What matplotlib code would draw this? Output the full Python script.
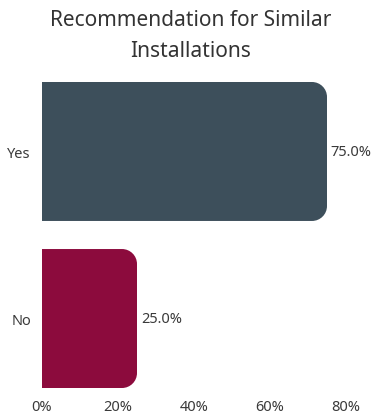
import matplotlib
matplotlib.use("Agg")
import matplotlib.pyplot as plt
from matplotlib.path import Path
from matplotlib.patches import PathPatch

categories = ["Yes", "No"]
values = [75.0, 25.0]
colors = ["#3d4f5b", "#8c0b3d"]
xticks = [0, 20, 40, 60, 80]
title = "Recommendation for Similar\nInstallations"

plt.rcParams['font.family'] = ['Noto Sans', 'DejaVu Sans']

fig = plt.figure(figsize=(3.74, 4.14), dpi=100)
ax = fig.add_axes([42/374, 25/414, 304/374, 306/414])

bar_h = 0.832
ypos = list(range(len(categories)))
ax.set_xlim(0, 80)
ax.set_ylim(len(categories) - 1 + bar_h/2, -bar_h/2)

# pixel radius converted to data units
rpx = 15
px_per_x = 304 / 80
px_per_y = 306 / (len(categories) - 1 + bar_h)
rx = rpx / px_per_x
ry = rpx / px_per_y

k = 0.5523
for y, v, c in zip(ypos, values, colors):
    y0, y1 = y - bar_h/2, y + bar_h/2
    x0, x1 = 0, v
    verts = [
        (x0, y0),
        (x1 - rx, y0),
        (x1 - rx + k*rx, y0), (x1, y0 + ry - k*ry), (x1, y0 + ry),
        (x1, y1 - ry),
        (x1, y1 - ry + k*ry), (x1 - rx + k*rx, y1), (x1 - rx, y1),
        (x0, y1),
        (x0, y0),
    ]
    codes = [Path.MOVETO, Path.LINETO,
             Path.CURVE4, Path.CURVE4, Path.CURVE4,
             Path.LINETO,
             Path.CURVE4, Path.CURVE4, Path.CURVE4,
             Path.LINETO, Path.CLOSEPOLY]
    ax.add_patch(PathPatch(Path(verts, codes), facecolor=c, edgecolor='none'))
    ax.text(v + 1, y, f"{v:.1f}%", va='center', ha='left', fontsize=10.5, color='#3a3a3a')

ax.set_yticks(ypos)
ax.set_yticklabels(categories, fontsize=10.5, color='#3a3a3a')
ax.set_xticks(xticks)
ax.set_xticklabels([f"{t}%" for t in xticks], fontsize=10.5, color='#3a3a3a')
ax.tick_params(length=0, pad=8)
for s in ax.spines.values():
    s.set_visible(False)

fig.text(191/374, 1 - 10/414, title, ha='center', va='top', fontsize=15,
         color='#333333', linespacing=1.6)

fig.savefig("out.png", dpi=100)
